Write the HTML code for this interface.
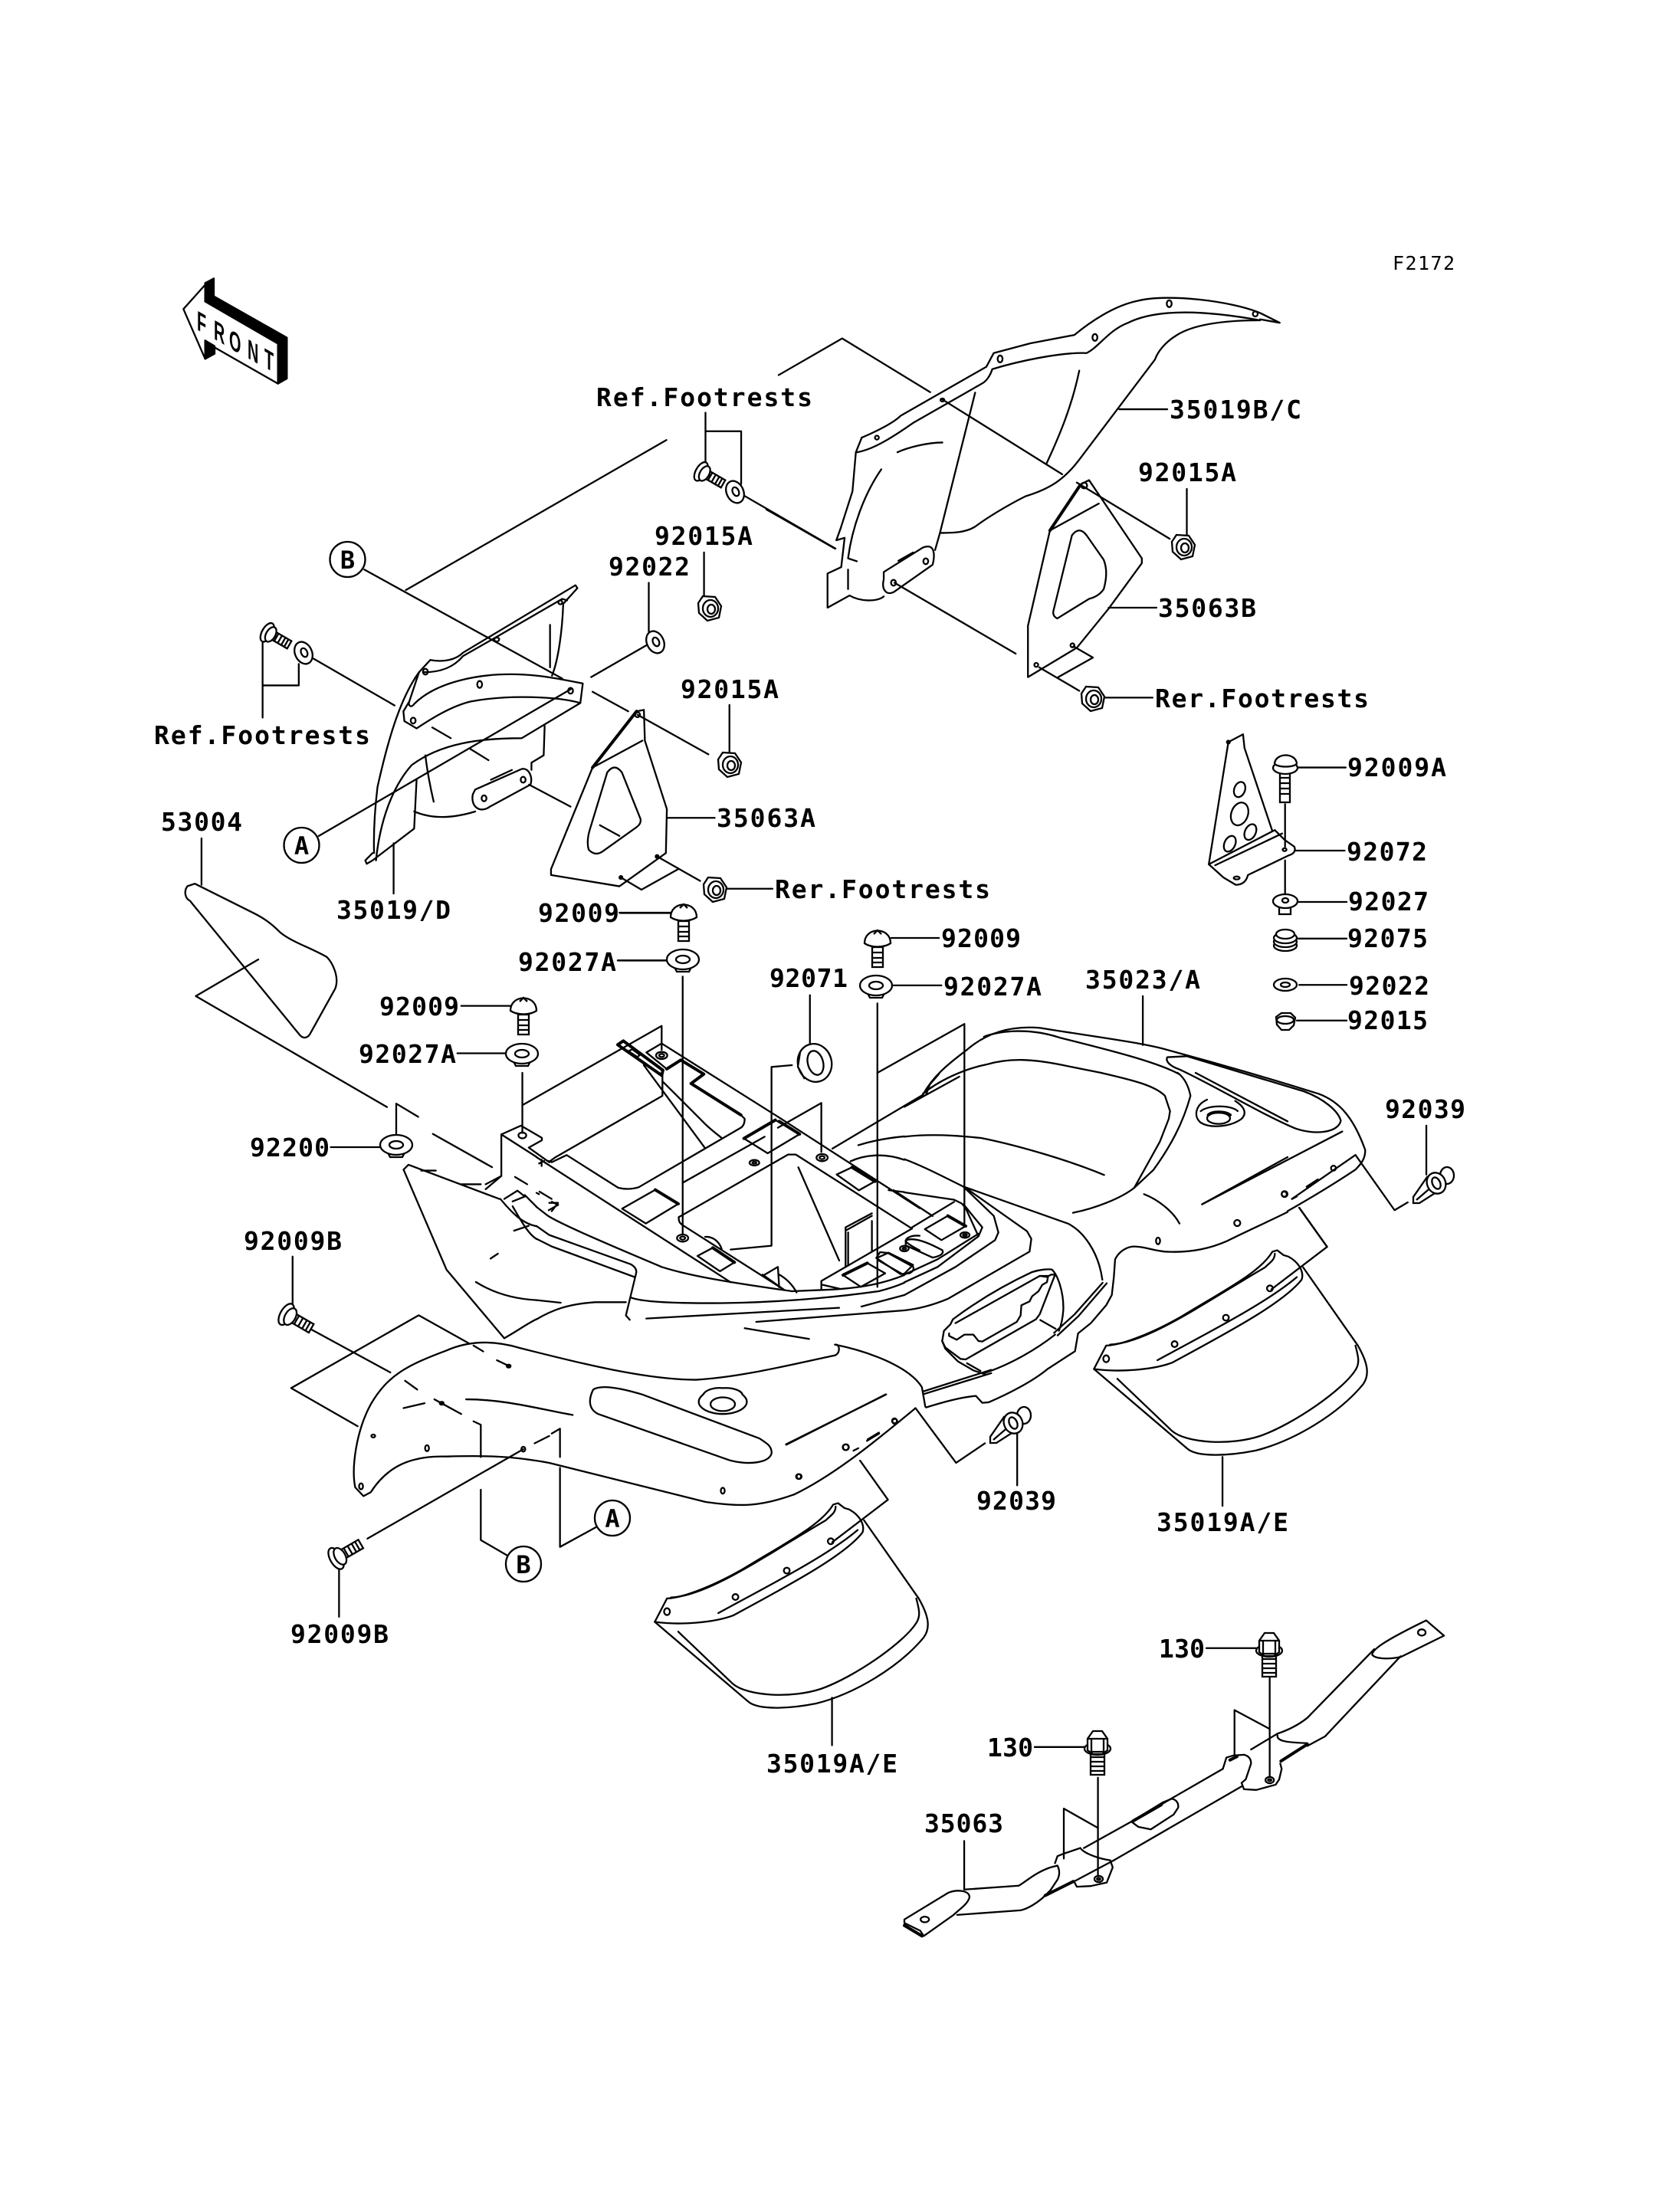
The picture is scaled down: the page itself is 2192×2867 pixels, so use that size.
<!DOCTYPE html>
<html><head><meta charset="utf-8"><title>Diagram</title>
<style>
html,body{margin:0;padding:0;background:#fff}
svg{display:block}
path,line,polyline,polygon,ellipse,circle,rect{vector-effect:non-scaling-stroke}
.l path,.l line,.l polyline,.l polygon,.l ellipse,.l circle{fill:none;stroke:#000;stroke-width:2.3;stroke-linejoin:round;stroke-linecap:round}
.l .t{stroke-width:4}
.l .k{fill:#000}
.h ellipse,.h path,.h polygon,.h circle,.h rect{fill:#fff;stroke:#000;stroke-width:2.3}
text{font-family:"DejaVu Sans Mono","Liberation Mono",monospace;font-weight:bold;font-size:33px;fill:#000}
text.f{font-family:"Liberation Sans",sans-serif;font-size:36px}
</style></head><body>
<svg xmlns="http://www.w3.org/2000/svg" width="2192" height="2867" viewBox="0 0 2192 2867">
<rect width="2192" height="2867" fill="#fff"/>
<defs>
<g id="nut" class="h"><polygon points="-9,-16 7,-15 15,-3 12,12 -3,16 -14,6 -15,-7"/><ellipse cx="1" cy="0" rx="10" ry="11"/><ellipse cx="2" cy="1" rx="5" ry="6"/></g>
<g id="washerT" class="h"><ellipse cx="0" cy="0" rx="11" ry="15" transform="rotate(-25)" stroke-width="3"/><ellipse cx="1" cy="0" rx="4" ry="6" transform="rotate(-25)"/></g>
<g id="flat" class="h"><path d="M-12,8 L-8,16 L8,16 L12,8Z"/><ellipse cx="0" cy="0" rx="21" ry="13"/><ellipse cx="0" cy="0" rx="9" ry="5"/></g>
<g id="screw" class="h"><rect x="-7" y="5" width="14" height="34"/><path d="M-7,13H7M-7,20H7M-7,27H7M-7,33H7"/><path d="M-17,8 C-17,-14 17,-14 17,8 C8,14 -8,14 -17,8Z"/><path d="M-5,-4 L0,-9 L5,-4"/></g>
<g id="bolt" class="h"><rect x="6" y="-8" width="36" height="15"/><path d="M16,-8V7M23,-8V7M30,-8V7M36,-8V7"/><ellipse cx="-2" cy="0" rx="9" ry="18"/><ellipse cx="5" cy="0" rx="8" ry="14"/></g>
<g id="clip" class="h"><path d="M-30,26 L-30,18 L-12,-8 L6,8 L-22,26Z"/><path d="M-26,22 L-4,3"/><ellipse cx="14" cy="-10" rx="9" ry="11"/><ellipse cx="0" cy="0" rx="12" ry="14" transform="rotate(-25)"/><ellipse cx="0" cy="0" rx="5" ry="8" transform="rotate(-25)"/></g>
<g id="b130" class="h"><rect x="-9" y="8" width="18" height="30"/><path d="M-9,15 H9 M-9,21 H9 M-9,27 H9 M-9,33 H9"/><ellipse cx="0" cy="4" rx="17" ry="8"/><polygon points="-13,-9 -6,-19 6,-19 13,-9 13,6 6,11 -6,11 -13,6"/><path d="M-8,-9H8V8H-8ZM-13,-9H-8M8,-9H13"/></g>
<g id="flap" class="l">
<path d="M670,998 L695,950 C720,950 780,930 850,890 C940,835 1010,800 1035,758 L1045,755 L1058,765 L1068,768 C1090,780 1100,800 1095,815 C1060,860 960,915 830,985 C790,1000 720,1005 670,998Z"/>
<path d="M703,948 C780,945 900,860 1020,790 C1030,780 1040,775 1040,762"/>
<path d="M800,980 C900,925 1020,865 1085,810"/>
<path d="M1098,790 L1210,950 C1230,985 1235,1010 1220,1030 C1170,1090 1080,1145 1000,1165 C950,1175 880,1180 860,1160 L670,998"/>
<path d="M718,1018 L830,1125 C860,1150 950,1155 1010,1135 C1080,1110 1180,1040 1205,1000 C1215,985 1210,970 1205,950"/>
<ellipse cx="695" cy="977" rx="6" ry="7"/><ellipse cx="835" cy="947" rx="6" ry="6"/><ellipse cx="940" cy="893" rx="6" ry="6"/><ellipse cx="1030" cy="833" rx="6" ry="6"/>
<path d="M1033,835 L1147,748 L1090,668"/>
</g>
</defs>

<!-- FRONT arrow -->
<g class="l" transform="translate(230,350) scale(.3333)">
<polygon points="28,160 113,65 113,130 398,295 398,452 150,310 113,283 113,355"/>
<polygon class="k" points="113,58 147,40 147,110 433,272 433,432 398,452 398,295 113,130"/>
<polygon class="k" points="113,283 150,305 150,335 113,355"/>
</g>

<!-- ZONE 1 -->
<g class="l" transform="translate(180,300) scale(.6378)">
<line x1="1081" y1="430" x2="548" y2="737"/>
<line x1="463" y1="695" x2="868" y2="918"/>
<line x1="930" y1="945" x2="1003" y2="985"/>
<line x1="1022" y1="992" x2="1167" y2="1073"/>
<line x1="370" y1="1240" x2="885" y2="940"/>
<line x1="927" y1="915" x2="1040" y2="850"/>
<line x1="1045" y1="722" x2="1045" y2="822"/>
<line x1="1158" y1="660" x2="1158" y2="757"/>
<line x1="1210" y1="972" x2="1210" y2="1072"/>
<polyline points="1161,374 1161,480"/><polyline points="1161,412 1234,412 1234,520"/>
<line x1="1237" y1="542" x2="1427" y2="652"/>
<line x1="255" y1="845" x2="255" y2="998"/><polyline points="255,932 329,932 329,888"/>
<line x1="350" y1="872" x2="525" y2="973"/>
<line x1="602" y1="1018" x2="640" y2="1040"/><line x1="680" y1="1062" x2="717" y2="1085"/>
<line x1="800" y1="1135" x2="885" y2="1180"/>
<path d="M598,880 C625,885 650,880 665,865 L895,727 L899,733 L870,765 C868,820 860,880 847,912"/>
<path d="M585,905 C627,905 650,890 665,872 L735,832 L868,755 L878,758"/>
<line x1="843" y1="808" x2="843" y2="895"/>
<path d="M598,880 L575,905 L555,965 C552,975 560,978 565,970 C610,925 700,905 790,910 C830,912 870,920 910,928 L905,968 C860,955 760,950 680,965 C640,975 600,1000 570,1020 L545,1005 L543,985 L555,965"/>
<path d="M575,905 C535,960 510,1050 490,1140 C484,1190 482,1240 483,1275"/>
<path d="M905,968 L785,1040 C700,1040 620,1050 560,1095 C520,1140 495,1210 487,1290"/>
<polyline points="832,1015 830,1075 805,1090 805,1105"/>
<path d="M588,1075 C592,1110 598,1140 605,1170"/>
<polyline points="570,1125 565,1225 480,1290 468,1297 465,1290 480,1275"/>
<path d="M565,1190 C600,1205 640,1205 690,1190"/>
<path d="M690,1145 L785,1103 C800,1100 808,1120 803,1135 L720,1180 C700,1195 680,1180 685,1155Z"/>
<ellipse cx="708" cy="1163" rx="5" ry="6"/><ellipse cx="788" cy="1125" rx="5" ry="6"/><line x1="722" y1="1125" x2="765" y2="1105"/>
<ellipse cx="588" cy="904" rx="5" ry="6"/><ellipse cx="699" cy="930" rx="5" ry="7"/><ellipse cx="563" cy="1004" rx="5" ry="6"/><ellipse cx="885" cy="943" rx="5" ry="6"/><ellipse cx="734" cy="838" rx="5" ry="4"/><ellipse cx="864" cy="762" rx="4" ry="4"/>
<line x1="523" y1="1255" x2="523" y2="1358"/>
<path d="M1020,985 L1035,982 L1037,1045 L1082,1185 L1080,1275 L985,1343 L845,1320 L845,1308 L930,1100 L1020,985"/>
<path class="t" d="M930,1100 L1020,985"/>
<line x1="930" y1="1100" x2="1032" y2="1045"/>
<path d="M960,1110 Q975,1090 990,1110 L1028,1205 Q1030,1215 1020,1222 L950,1272 Q935,1282 922,1268 Q917,1250 925,1225Z"/>
<line x1="945" y1="1218" x2="985" y2="1240"/>
<line x1="1082" y1="1203" x2="1180" y2="1203"/>
<polyline points="988,1325 1030,1350 1105,1308"/>
<line x1="1062" y1="1282" x2="1150" y2="1332"/>
<line x1="1200" y1="1348" x2="1298" y2="1348"/>
<ellipse cx="988" cy="1325" rx="3" ry="3"/><ellipse cx="1062" cy="1282" rx="3" ry="3"/><ellipse cx="1022" cy="992" rx="5" ry="5"/>
<line x1="985" y1="1397" x2="1090" y2="1397"/>
<line x1="982" y1="1495" x2="1082" y2="1495"/>
<line x1="130" y1="1245" x2="130" y2="1340"/>
</g>

<!-- ZONE 2 -->
<g class="l" transform="translate(1000,300) scale(.6378)">
<polyline points="25,297 155,222 335,332"/>
<line x1="360" y1="347" x2="605" y2="500"/>
<line x1="635" y1="517" x2="825" y2="632"/>
<line x1="0" y1="572" x2="140" y2="652"/>
<line x1="262" y1="722" x2="510" y2="867"/>
<line x1="558" y1="895" x2="640" y2="943"/>
<path d="M195,425 C230,410 260,395 275,380 L450,280 L465,252 L540,232 L630,215 C660,190 710,155 760,145 C820,130 950,145 1010,170 L1050,190 L1010,183"/>
<path d="M185,455 C215,450 250,430 300,395 L440,315 C450,310 458,298 462,285 C510,270 600,250 655,252 C680,240 700,205 740,190 C800,160 900,165 1010,185 C950,185 880,190 840,215 C815,230 800,250 795,265 L640,470 C610,510 580,530 530,545 C490,565 450,590 430,605 C410,620 380,620 355,620"/>
<path d="M195,425 L183,455 L176,535 L152,610 L143,635 L160,630 L153,690 L125,703 L125,773 L170,748 C190,760 225,762 240,750"/>
<path d="M235,490 C200,540 175,610 167,672 L185,678"/>
<line x1="167" y1="695" x2="167" y2="735"/>
<path d="M268,455 C290,445 330,435 360,435"/>
<polyline points="427,333 355,620 345,655"/>
<path d="M640,288 C625,360 600,420 573,478"/>
<path d="M240,700 L320,650 C345,640 345,665 340,685 L262,740 C245,750 235,735 240,715Z"/>
<ellipse cx="260" cy="722" rx="5" ry="6"/><ellipse cx="326" cy="678" rx="5" ry="6"/><line x1="270" y1="677" x2="300" y2="660"/>
<ellipse cx="226" cy="425" rx="4" ry="4"/><ellipse cx="360" cy="348" rx="4" ry="3"/><ellipse cx="478" cy="264" rx="5" ry="7"/><ellipse cx="672" cy="220" rx="5" ry="7"/><ellipse cx="824" cy="151" rx="5" ry="7"/><ellipse cx="1000" cy="172" rx="5" ry="5"/>
<line x1="722" y1="367" x2="820" y2="367"/>
<path d="M640,522 L660,512 L768,672 L768,682 L700,775 L635,855 L535,915 L535,810 L580,615 L640,525"/>
<path class="t" d="M580,615 L640,525"/>
<line x1="580" y1="615" x2="680" y2="560"/>
<polyline points="628,852 668,875 597,915"/>
<path d="M625,625 Q640,605 655,625 L690,675 Q700,700 690,735 Q680,750 660,755 L595,795 Q585,790 587,780Z"/>
<line x1="700" y1="773" x2="798" y2="773"/>
<line x1="690" y1="957" x2="790" y2="957"/>
<line x1="860" y1="530" x2="860" y2="630"/>
<ellipse cx="552" cy="890" rx="4" ry="4"/><ellipse cx="626" cy="850" rx="4" ry="4"/><ellipse cx="650" cy="523" rx="6" ry="6"/>
<path d="M905,1298 L945,1048 L975,1032 L978,1060 L1035,1230"/>
<path d="M1040,1228 L1060,1248 L1080,1262 Q1085,1275 1068,1280 L985,1320 Q980,1340 960,1340 L935,1325 L905,1298 L1040,1228"/>
<line x1="918" y1="1300" x2="1055" y2="1235"/>
<ellipse cx="968" cy="1145" rx="11" ry="16" transform="rotate(20 968 1145)"/><ellipse cx="968" cy="1195" rx="17" ry="24" transform="rotate(20 968 1195)"/><ellipse cx="990" cy="1232" rx="11" ry="17" transform="rotate(25 990 1232)"/><ellipse cx="948" cy="1256" rx="11" ry="17" transform="rotate(25 948 1256)"/>
<ellipse cx="962" cy="1326" rx="6" ry="3"/><ellipse cx="1060" cy="1268" rx="4" ry="3"/><ellipse cx="945" cy="1048" rx="3" ry="3"/>
<line x1="1082" y1="1270" x2="1183" y2="1270"/>
<line x1="1061" y1="1175" x2="1061" y2="1262"/><line x1="1061" y1="1290" x2="1061" y2="1360"/>
<line x1="1085" y1="1100" x2="1185" y2="1100"/>
<line x1="1085" y1="1375" x2="1187" y2="1375"/>
<line x1="1085" y1="1450" x2="1187" y2="1450"/>
</g>

<!-- ZONE 3 -->
<g class="l" transform="translate(200,1150) scale(.6378)">
<path d="M70,10 C62,20 65,35 75,40 L300,315 C310,325 318,318 322,310 L372,220 C382,195 365,165 355,155 C320,135 285,125 260,105 C240,85 225,75 205,65 L85,5Z"/>
<polyline points="215,160 87,235 478,462"/>
<line x1="955" y1="65" x2="1060" y2="65"/>
<line x1="950" y1="162" x2="1050" y2="162"/>
<line x1="1083" y1="195" x2="1083" y2="722"/>
<line x1="630" y1="255" x2="730" y2="255"/>
<line x1="622" y1="352" x2="722" y2="352"/>
<line x1="755" y1="392" x2="755" y2="515"/>
<line x1="363" y1="544" x2="465" y2="544"/>
<polyline points="497,520 497,455 542,482"/>
<line x1="572" y1="517" x2="693" y2="585"/>
<line x1="740" y1="605" x2="765" y2="620"/><line x1="790" y1="635" x2="815" y2="650"/>
<polyline points="810,658 828,658 815,675"/>
<polyline points="757,457 1040,296 1040,345"/>
<path d="M712,518 L752,500 L795,525 L795,530 L768,545 L810,575"/>
<polyline points="712,518 712,603 680,620"/>
<line x1="712" y1="518" x2="784" y2="564"/>
<ellipse cx="755" cy="520" rx="8" ry="6"/>
<path d="M512,590 L600,795 L718,935"/><path d="M512,590 L522,580 L708,650"/>
<path d="M548,592 H578 M630,620 H670"/>
<path d="M680,630 L712,603 M718,650 L745,633 L760,645 L735,655"/>
<path d="M710,650 C735,680 755,700 784,706"/>
<path d="M735,665 C750,690 765,720 784,732"/>
<path d="M760,642 L784,666"/>
<line x1="768" y1="705" x2="738" y2="715"/><line x1="705" y1="762" x2="690" y2="772"/>
<path d="M660,820 C700,845 745,855 784,857"/>
<path d="M718,935 C745,920 765,905 784,896"/>
<path d="M1397,948 C1405,950 1405,965 1395,970 C1300,990 1200,1015 1110,1020 C1000,1020 850,980 750,955 C700,940 650,938 600,960 C520,990 480,1010 445,1070 C415,1125 405,1200 413,1240 L430,1258 L445,1250 C480,1195 530,1175 600,1177 C670,1175 730,1175 810,1190 L1130,1270 C1200,1280 1240,1280 1310,1255"/>
<path d="M900,1040 C890,1060 890,1080 910,1090 L1180,1185 C1220,1195 1260,1190 1265,1170 C1265,1155 1255,1150 1240,1140 L1000,1050 C950,1035 915,1030 900,1040Z"/>
<ellipse cx="1165" cy="1070" rx="25" ry="14"/><path d="M1125,1050 C1130,1040 1150,1035 1165,1037 C1190,1035 1205,1045 1205,1050 M1125,1050 C1100,1070 1130,1090 1165,1090 C1200,1090 1230,1070 1205,1050"/>
<path d="M640,1060 C720,1060 790,1080 858,1092"/>
<line x1="512" y1="1078" x2="555" y2="1068"/>
<ellipse cx="450" cy="1135" rx="4" ry="3"/><ellipse cx="560" cy="1160" rx="4" ry="6"/><ellipse cx="757" cy="1162" rx="4" ry="5"/><ellipse cx="425" cy="1238" rx="4" ry="6"/><ellipse cx="1165" cy="1247" rx="4" ry="6"/><ellipse cx="1320" cy="1218" rx="5" ry="5"/><ellipse cx="1417" cy="1158" rx="6" ry="6"/><ellipse cx="1517" cy="1105" rx="5" ry="5"/><ellipse cx="727" cy="992" rx="4" ry="3"/><ellipse cx="590" cy="1068" rx="4" ry="3"/>
<line x1="1295" y1="1153" x2="1498" y2="1050"/>
<line x1="1460" y1="1145" x2="1485" y2="1130"/>
<line x1="325" y1="918" x2="485" y2="1005"/>
<line x1="515" y1="1022" x2="540" y2="1040"/>
<line x1="575" y1="1060" x2="630" y2="1090"/>
<polyline points="645,945 543,888 282,1037 418,1115"/>
<line x1="655" y1="950" x2="675" y2="962"/>
<line x1="703" y1="980" x2="728" y2="992"/>
<polyline points="655,1105 670,1112 670,1178"/>
<polyline points="670,1245 670,1348 725,1380"/>
<polyline points="815,1130 832,1120 832,1178"/>
<polyline points="832,1200 832,1362 905,1322"/>
<line x1="438" y1="1345" x2="757" y2="1162"/>
<line x1="780" y1="1150" x2="810" y2="1135"/>
<line x1="380" y1="1405" x2="380" y2="1505"/>
<line x1="285" y1="768" x2="285" y2="868"/>
</g>

<!-- TRAY -->
<g class="l" transform="translate(700,1340) scale(.3333)">
<path d="M45,525 L60,530 L118,502 L320,630 Q360,640 400,628 L800,395 Q815,385 815,360 L800,345"/>
<path class="t" d="M800,345 L605,222 L655,185 L565,130 L510,165"/>
<path d="M510,165 L430,100 L490,65 L950,355 L1500,710"/>
<path d="M493,165 L493,270 L75,510 L50,528 L45,525"/>
<path class="t" d="M318,70 L340,55 L495,170 L490,190Z"/>
<path d="M360,95 L375,88 L405,110 L395,118Z"/>
<line x1="420" y1="150" x2="660" y2="475"/>
<path d="M495,215 L660,380 C680,400 700,415 725,435"/>
<path d="M20,520 L20,545 M10,535 L30,525"/>
<path d="M0,650 L10,655 M60,685 L85,697 L48,718"/>
<line x1="0" y1="510" x2="760" y2="1000"/>
<path d="M335,712 L465,638 L555,693 L428,770Z"/>
<path class="t" d="M465,638 L555,693"/>
<line x1="573" y1="610" x2="893" y2="430"/>
<path d="M812,437 L935,365 L1030,420 L905,495Z"/>
<path class="t" d="M812,437 L935,365"/><path class="t" d="M950,370 L1030,420"/>
<polyline points="945,395 1115,298 1115,490"/>
<ellipse cx="1118" cy="512" rx="22" ry="14"/><ellipse cx="1118" cy="512" rx="10" ry="6"/>
<ellipse cx="853" cy="532" rx="19" ry="11"/><ellipse cx="853" cy="532" rx="8" ry="4"/>
<ellipse cx="572" cy="827" rx="22" ry="14"/><ellipse cx="572" cy="827" rx="10" ry="6"/>
<ellipse cx="490" cy="112" rx="22" ry="14"/><ellipse cx="490" cy="112" rx="10" ry="6"/>
<path d="M557,745 L985,500 L1015,500 L1470,790"/>
<path d="M557,745 Q555,765 570,775 L970,1030"/>
<polyline points="1000,150 920,157 920,857 760,872"/>
<line x1="1025" y1="550" x2="1185" y2="915"/>
<path d="M1210,940 L1210,785 L1313,730 M1220,805 L1220,935 M1215,795 L1313,740 M1313,760 L1313,880"/>
<path d="M660,822 C690,820 715,840 725,870"/>
<path d="M630,897 L690,865 L775,922 L718,957Z"/><path class="t" d="M690,865 L775,922"/>
<path d="M1175,578 L1235,550 L1325,605 L1262,640Z"/><path class="t" d="M1235,550 L1325,605"/>
<path d="M1115,1030 L1115,995 L1470,790"/>
<path d="M1120,1010 L1185,1025"/>
<path d="M1200,972 L1295,925 L1365,965 L1270,1018Z"/><path class="t" d="M1200,972 L1295,925"/>
<path d="M1330,905 L1345,882 L1375,885 L1475,940 Q1480,955 1460,965 L1425,968 L1330,905"/>
<ellipse cx="1440" cy="868" rx="17" ry="11"/><ellipse cx="1440" cy="868" rx="7" ry="4"/>
<path d="M1500,818 C1470,815 1445,825 1445,840 C1455,850 1480,865 1500,875"/>
<path d="M885,975 L945,940 L950,1020 M885,970 L970,1030"/>
<path d="M950,970 C985,990 1005,1015 1018,1040"/>
<path d="M0,705 L45,740 C100,775 300,860 490,940 C600,975 750,1000 1000,1035 L1120,1030 C1280,1025 1370,1000 1440,972"/>
<path d="M370,1060 C420,1080 600,1085 800,1080 C1000,1075 1200,1055 1340,1035 C1380,1025 1410,1015 1440,1002"/>
<path d="M0,780 L50,815 L370,930 Q395,945 390,965 L350,1130 L365,1147"/>
<path d="M0,830 L60,860 L385,980"/>
<line x1="0" y1="1070" x2="95" y2="1080"/>
<path d="M0,1145 C60,1110 120,1085 230,1078 L350,1078"/>
<line x1="430" y1="1142" x2="1185" y2="1100"/>
<line x1="860" y1="1155" x2="1440" y2="1110"/>
<line x1="1272" y1="1095" x2="1440" y2="1050"/>
<line x1="815" y1="1180" x2="1067" y2="1222"/>
</g>

<!-- ZONE 4 -->
<g class="l" transform="translate(1000,1150) scale(.6378)">
<line x1="255" y1="116" x2="353" y2="116"/>
<line x1="260" y1="213" x2="358" y2="213"/>
<line x1="89" y1="233" x2="89" y2="335"/>
<line x1="1090" y1="212" x2="1187" y2="212"/>
<line x1="1085" y1="285" x2="1187" y2="285"/>
<line x1="770" y1="235" x2="770" y2="335"/>
<line x1="1350" y1="500" x2="1350" y2="600"/>
<line x1="513" y1="1130" x2="513" y2="1236"/>
<path d="M135,547 L320,437 C340,400 370,375 410,345 C450,310 500,295 560,300 C650,315 770,330 820,345 C950,380 1050,410 1130,435 C1170,450 1200,480 1225,550 C1225,565 1220,575 1205,590 C1160,620 1110,650 1066,675"/>
<path d="M320,435 C350,410 400,385 450,375 C500,360 550,365 600,375 L685,392"/>
<path d="M445,318 C480,305 540,300 600,320 C700,345 800,370 845,395"/>
<path d="M188,540 C220,530 250,525 282,522"/>
<path d="M172,573 C200,560 240,555 282,570"/>
<path d="M250,632 L282,636"/>
<line x1="260" y1="632" x2="340" y2="685"/>
<polyline points="227,250 227,830"/>
<polyline points="227,392 405,292 405,705"/>
<path d="M285,735 Q305,725 360,755 Q365,765 340,770 L285,745Z"/>
<path d="M228,770 L250,760 L300,785 L280,805 L228,775"/>
<path d="M820,360 C815,370 830,380 845,385 C920,420 1000,470 1080,505 C1120,520 1170,515 1175,490 C1170,470 1140,445 1100,430 C1000,400 900,370 860,358Z"/>
<line x1="1105" y1="625" x2="1128" y2="610"/>
<ellipse cx="1160" cy="587" rx="5" ry="5"/><ellipse cx="1060" cy="640" rx="6" ry="6"/>
<polyline points="1075,650 1085,645"/>
<polyline points="1090,668 1147,748"/>
<line x1="1205" y1="560" x2="1075" y2="650"/>
<polyline points="1205,560 1285,673 1312,657"/>
<line x1="893" y1="660" x2="1178" y2="512"/>
<path d="M56,1255 C140,1215 230,1140 305,1078"/>
<polyline points="305,1078 388,1190 447,1150"/>
<line x1="40" y1="1152" x2="245" y2="1050"/>
<line x1="207" y1="1142" x2="230" y2="1128"/>
<ellipse cx="262" cy="1104" rx="5" ry="5"/><ellipse cx="162" cy="1158" rx="6" ry="6"/><ellipse cx="67" cy="1218" rx="5" ry="5"/>
<polyline points="178,1165 188,1160"/>
<path d="M140,948 C200,960 290,990 318,1035 L325,1075"/>
<line x1="933" y1="1178" x2="933" y2="1278"/>
</g>

<!-- ZONE 6 -->
<g class="l" transform="translate(1180,1400) scale(.3333)">
<path d="M148,1050 L155,1010 L180,985 L190,965 C250,920 350,850 500,780 C530,770 560,768 577,770 C600,790 625,860 622,930 C620,960 615,985 605,1010"/>
<path d="M200,980 L530,795 L565,795 L575,790 L590,790 L530,945 L515,965 L240,1122 L220,1120 L160,1075 L148,1050"/>
<path d="M175,1020 L175,1030 L205,1045 L235,1025 L270,1025 L290,1050 L305,1052 L440,975 L455,950 L458,910 L490,895 L500,875 L525,855 L540,830 L558,820 L562,800 L530,795"/>
<line x1="532" y1="968" x2="592" y2="1002"/>
<line x1="245" y1="1137" x2="298" y2="1167"/>
<path d="M148,1050 L160,1080 L210,1130 L270,1165 L315,1180"/>
<path d="M75,1247 L340,1163 M75,1258 L340,1176"/>
<path d="M586,1018 L666,946 L776,822 M600,1028 L682,952 L792,824"/>
<path d="M315,1175 C420,1140 520,1080 590,1025"/>
<path d="M85,1310 C150,1290 220,1270 280,1265 L305,1292 L330,1290 C400,1260 500,1210 560,1160 L668,1090 L680,1020 L730,980 L790,910 L812,870 L820,800 L825,730 C840,700 870,680 900,680 C940,680 970,695 1020,700 C1100,705 1180,695 1260,660 C1340,620 1430,580 1500,545"/>
<path d="M0,338 C60,360 130,395 230,445 L640,590 C700,620 760,700 775,810"/>
<path d="M230,445 L350,560 L368,625 L355,655 L200,760 L0,870"/>
<path d="M232,445 L480,620 L497,650 L490,700 L170,885 C110,910 50,925 0,930"/>
<path d="M0,820 L130,760 L290,640 L305,605 L260,550 L232,515"/>
<path d="M0,790 L130,730 L290,630"/>
<path d="M0,468 L195,497 L225,512 L240,530 L290,640"/>
<path d="M195,505 L30,605"/>
<path d="M80,612 L170,560 L240,600 L145,655Z"/>
<path class="t" d="M170,560 L240,600"/>
<ellipse cx="237" cy="635" rx="18" ry="11"/><ellipse cx="237" cy="635" rx="8" ry="4"/>
<line x1="0" y1="133" x2="215" y2="15"/>
<path d="M85,85 L100,45 L135,5"/>
<path d="M660,548 C750,530 850,490 900,450 L975,380 C1040,290 1090,200 1120,90 C1110,40 1090,15 1070,0"/>
<path d="M900,450 L1000,270 L1035,180 L1040,150 L1020,90 C980,50 900,30 770,0"/>
<path d="M0,250 C100,238 200,245 300,255 C450,285 650,345 782,400"/>
<path d="M938,475 C990,495 1050,540 1077,590"/>
<ellipse cx="993" cy="658" rx="8" ry="13"/><ellipse cx="1303" cy="588" rx="12" ry="12"/><ellipse cx="1487" cy="475" rx="10" ry="10"/>
<line x1="1165" y1="515" x2="1500" y2="330"/>
<path d="M1185,105 C1140,125 1130,170 1160,195 C1200,220 1280,210 1320,180 C1340,160 1335,135 1295,110"/>
<path d="M1160,150 C1190,125 1280,125 1305,150"/>
<ellipse cx="1230" cy="178" rx="45" ry="22"/>
<path class="t" d="M1190,165 C1205,150 1255,150 1275,165"/>
<path d="M1140,0 L1500,190"/>
</g>

<use href="#flap" transform="translate(1000,1150) scale(.6378)"/>
<use href="#flap" transform="translate(427,1480) scale(.6378)"/>

<!-- FRAME -->
<g class="l" transform="translate(700,1950) scale(.8292,.4146)">
<path d="M1400,397 L1428,445 L1360,512 C1340,520 1320,518 1315,505 C1315,490 1330,465 1400,397Z"/>
<ellipse cx="1393" cy="435" rx="6" ry="10"/>
<line x1="465" y1="640" x2="465" y2="790"/>
</g>
<g class="l" transform="translate(1180,2120) scale(.4592)">
<path d="M1335,70 L1145,265 C1120,285 1090,300 1060,310 L985,355"/>
<path d="M1410,90 L1195,318 L1145,345"/>
<path class="t" d="M1145,340 L1070,388"/>
<path d="M1060,315 C1058,330 1080,335 1145,337"/>
<path d="M905,410 L915,378 L935,372 L965,370 Q985,375 985,395 L970,440 L958,450 L965,468 L1000,470 L1055,455 L1065,440 L1072,410 L1068,395"/>
<ellipse cx="1038" cy="442" rx="12" ry="9"/><ellipse cx="1038" cy="442" rx="5" ry="3"/>
<path class="t" d="M925,385 L945,375"/>
<path d="M905,410 L645,560 L510,635"/>
<line x1="958" y1="460" x2="595" y2="670"/>
<path d="M645,560 L735,505 L760,495 Q780,500 778,520 L765,540 L700,582 L665,575 L645,560"/>
<path class="t" d="M650,558 L730,512"/>
<path d="M500,635 C510,650 550,665 585,670 L592,690 L575,733 L530,743 L490,745 L482,730 L595,670"/>
<ellipse cx="552" cy="723" rx="12" ry="9"/><ellipse cx="552" cy="723" rx="5" ry="3"/>
<path d="M428,678 L435,658 L450,652 L500,635"/>
<path d="M170,753 L325,742 C340,735 370,705 415,690 L435,685 Q445,705 435,725 L415,755 L400,770"/>
<path class="t" d="M400,770 L480,730"/>
<path d="M150,825 L330,812 C350,808 380,790 400,770"/>
<path d="M0,838 L125,762 C150,752 185,755 185,775 C180,795 155,810 140,825 L55,885 L45,870 L0,848Z"/>
<ellipse cx="58" cy="838" rx="12" ry="8"/>
<path class="t" d="M0,855 L50,885"/>
<line x1="170" y1="615" x2="170" y2="753"/>
<line x1="370" y1="348" x2="515" y2="348"/>
<line x1="550" y1="435" x2="550" y2="715"/>
<polyline points="550,578 453,523 453,665"/>
<line x1="858" y1="67" x2="1000" y2="67"/>
<line x1="1038" y1="152" x2="1038" y2="430"/>
<polyline points="1035,295 938,243 938,375"/>
</g>

<!-- hardware -->
<use href="#nut" x="926" y="794"/><use href="#nut" x="952" y="998"/><use href="#nut" x="933" y="1161"/>
<use href="#nut" x="1544" y="714"/><use href="#nut" x="1426" y="912"/>
<use href="#washerT" x="855" y="838"/><use href="#washerT" x="959" y="642"/><use href="#washerT" x="396" y="852"/>
<use href="#bolt" transform="translate(916,616) rotate(30) scale(.75)"/>
<use href="#bolt" transform="translate(350,826) rotate(30) scale(.75)"/>
<use href="#bolt" transform="translate(375,1716) rotate(30) scale(.85)"/>
<use href="#bolt" transform="translate(440,2033) rotate(-30) scale(.85)"/>
<use href="#screw" x="892" y="1189"/><use href="#screw" x="683" y="1311"/><use href="#screw" x="1145" y="1223"/>
<use href="#flat" x="891" y="1252"/><use href="#flat" x="681" y="1375"/><use href="#flat" x="1143" y="1286"/>
<use href="#flat" x="517" y="1494"/>
<use href="#clip" x="1874" y="1544"/><use href="#clip" x="1322" y="1857"/>
<use href="#b130" x="1656" y="2150"/><use href="#b130" x="1432" y="2278"/>
<g class="h">
<ellipse cx="1063" cy="1387" rx="22" ry="25" transform="rotate(-15 1063 1387)"/><ellipse cx="1064" cy="1387" rx="10" ry="16" transform="rotate(-15 1064 1387)"/><path d="M1044,1373 L1041,1392 L1050,1408"/>
<rect x="1670" y="1005" width="13" height="42"/><path d="M1670,1015H1683M1670,1022H1683M1670,1029H1683M1670,1036H1683"/>
<ellipse cx="1677" cy="1002" rx="16" ry="8"/><path d="M1663,996 C1665,982 1690,982 1692,996 C1690,1002 1665,1002 1663,996Z"/>
<rect x="1669" y="1178" width="15" height="15"/><ellipse cx="1677" cy="1176" rx="16" ry="9"/><ellipse cx="1677" cy="1175" rx="4" ry="3"/>
<ellipse cx="1677" cy="1234" rx="15" ry="7"/><ellipse cx="1677" cy="1229" rx="15" ry="7"/><ellipse cx="1677" cy="1224" rx="15" ry="7"/><ellipse cx="1677" cy="1219" rx="12" ry="6"/>
<ellipse cx="1677" cy="1285" rx="15" ry="8"/><ellipse cx="1677" cy="1285" rx="6" ry="3"/>
<polygon points="1665,1327 1672,1322 1684,1322 1690,1328 1688,1338 1682,1344 1672,1344 1666,1337"/><ellipse cx="1677" cy="1331" rx="11" ry="5"/>
<circle cx="453.5" cy="730" r="23"/><circle cx="393.5" cy="1103" r="23"/><circle cx="799" cy="1981" r="23"/><circle cx="683" cy="2041" r="23"/>
</g>

<!-- text -->
<text x="778" y="530" textLength="282">Ref.Footrests</text>
<text x="854" y="711" textLength="128">92015A</text>
<text x="794" y="751" textLength="106">92022</text>
<text x="888" y="911" textLength="128">92015A</text>
<text x="201" y="971" textLength="282">Ref.Footrests</text>
<text x="935" y="1079" textLength="129">35063A</text>
<text x="1011" y="1172" textLength="281">Rer.Footrests</text>
<text x="210" y="1084" textLength="106">53004</text>
<text x="439" y="1199" textLength="149">35019/D</text>
<text x="702" y="1203" textLength="106">92009</text>
<text x="676" y="1267" textLength="128">92027A</text>
<text x="1004" y="1288" textLength="102">92071</text>
<text x="1817" y="352" textLength="81" style="font-size:25px;font-weight:normal">F2172</text>
<text x="1526" y="546" textLength="172">35019B/C</text>
<text x="1485" y="628" textLength="128">92015A</text>
<text x="1511" y="805" textLength="128">35063B</text>
<text x="1507" y="923" textLength="279">Rer.Footrests</text>
<text x="1758" y="1013" textLength="129">92009A</text>
<text x="1757" y="1123" textLength="105">92072</text>
<text x="1759" y="1188" textLength="105">92027</text>
<text x="1758" y="1236" textLength="105">92075</text>
<text x="1228" y="1236" textLength="104">92009</text>
<text x="1231" y="1299" textLength="128">92027A</text>
<text x="1760" y="1298" textLength="105">92022</text>
<text x="1758" y="1343" textLength="105">92015</text>
<text x="1416" y="1290" textLength="150">35023/A</text>
<text x="1807" y="1459" textLength="105">92039</text>
<text x="1274" y="1970" textLength="104">92039</text>
<text x="1509" y="1998" textLength="172">35019A/E</text>
<text x="495" y="1325" textLength="104">92009</text>
<text x="468" y="1387" textLength="127">92027A</text>
<text x="326" y="1509" textLength="104">92200</text>
<text x="318" y="1631" textLength="128">92009B</text>
<text x="379" y="2144" textLength="128">92009B</text>
<text x="1000" y="2313" textLength="171">35019A/E</text>
<text x="1512" y="2163" textLength="60">130</text>
<text x="1288" y="2292" textLength="60">130</text>
<text x="1206" y="2391" textLength="103">35063</text>
<text x="453.5" y="742" text-anchor="middle" style="font-size:32px">B</text>
<text x="393.5" y="1115" text-anchor="middle" style="font-size:32px">A</text>
<text x="799" y="1993" text-anchor="middle" style="font-size:32px">A</text>
<text x="683" y="2053" text-anchor="middle" style="font-size:32px">B</text>
<text class="f" transform="translate(257,430) skewY(30) scale(.55,1)">F</text>
<text class="f" transform="translate(279,442) skewY(30) scale(.55,1)">R</text>
<text class="f" transform="translate(299,454) skewY(30) scale(.55,1)">O</text>
<text class="f" transform="translate(323,467) skewY(30) scale(.55,1)">N</text>
<text class="f" transform="translate(345,479) skewY(30) scale(.55,1)">T</text>
</svg>
</body></html>
